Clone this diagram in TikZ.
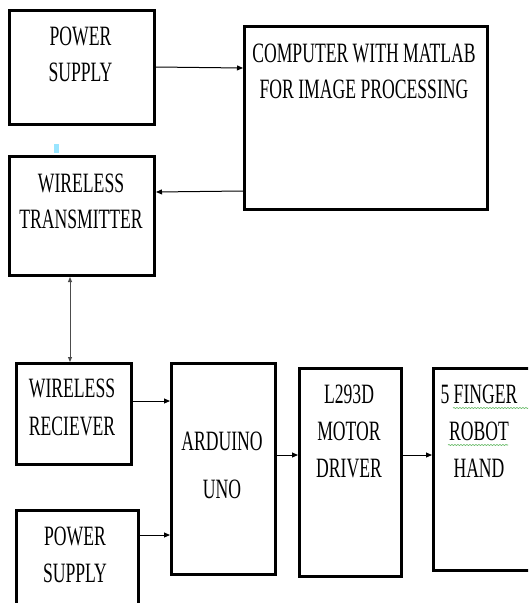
\documentclass[tikz,border=0pt]{standalone}
\usepackage{fontspec}
\setmainfont{Liberation Serif}[FakeStretch=0.63]
\usetikzlibrary{arrows.meta,decorations.pathmorphing}
\begin{document}
\begin{tikzpicture}[x=1pt,y=-1pt,
  blk/.style={draw,line width=3pt,inner sep=0pt,anchor=north west},
  lbl/.style={anchor=base,inner sep=0pt,font=\fontsize{28}{30}\selectfont},
  arr/.style={line width=1pt,-{Triangle[length=6pt,width=5pt]}},
  darr/.style={line width=0.9pt,draw=black!70,{Triangle[length=5pt,width=4pt]}-{Triangle[length=5pt,width=4pt]}},
  squig/.style={draw=green!55!black!70,line width=0.6pt,decorate,decoration={snake,amplitude=0.5pt,segment length=3pt}}]
\useasboundingbox (0,0) rectangle (528,603);
\clip (0,0) rectangle (528,603);
\fill[white] (0,0) rectangle (528,603);
% boxes
\node[blk,minimum width=145pt,minimum height=114pt] (ps1) at (8,9) {};
\node[blk,minimum width=243pt,minimum height=183pt] (comp) at (243,25) {};
\node[blk,minimum width=145pt,minimum height=119pt] (wt) at (8,155) {};
\node[blk,minimum width=115pt,minimum height=101pt] (wr) at (15,362) {};
\node[blk,minimum width=104pt,minimum height=211pt] (ard) at (170,362) {};
\node[blk,minimum width=102pt,minimum height=208pt] (drv) at (298,367) {};
\node[blk,minimum width=180pt,minimum height=202pt] (hand) at (432,367) {};
\node[blk,minimum width=122pt,minimum height=130pt] (ps2) at (15,509) {};
% blue mark
\fill[blue!25!cyan!40] (54,144) rectangle (59,153);
% labels
\node[lbl] (t1) at (80.5,45) {POWER};
\node[lbl] (t2) at (80.5,81) {SUPPLY};
\node[lbl] (t3) at (364,62) {COMPUTER WITH MATLAB};
\node[lbl] (t4) at (364,98) {FOR IMAGE PROCESSING};
\node[lbl] (t5) at (81,192) {WIRELESS};
\node[lbl] (t6) at (81,228) {TRANSMITTER};
\node[lbl] (t7) at (72,397) {WIRELESS};
\node[lbl] (t8) at (72,435) {RECIEVER};
\node[lbl] (t9) at (222,450) {ARDUINO};
\node[lbl] (t10) at (222,498) {UNO};
\node[lbl] (t11) at (349,403) {L293D};
\node[lbl] (t12) at (349,440) {MOTOR};
\node[lbl] (t13) at (349,477) {DRIVER};
\node[lbl] (t14) at (479,403) {5 FINGER};
\node[lbl] (t15) at (479,440) {ROBOT};
\node[lbl] (t16) at (479,477) {HAND};
\node[lbl] (t17) at (75,545) {POWER};
\node[lbl] (t18) at (75,582) {SUPPLY};
% spell-check underlines
\draw[squig] (453,408) -- (534,408);
\draw[squig] (448,445) -- (508,445);
% connectors
\draw[arr] (ps1.east |- 0,67) -- (comp.west |- 0,68);
\draw[arr] (comp.west |- 0,191) -- (wt.east |- 0,192);
\draw[darr] (wt.south -| 70,0) -- (wr.north -| 70,0);
\draw[arr] (wr.east |- 0,401) -- (ard.west |- 0,401);
\draw[arr] (ps2.east |- 0,535) -- (ard.west |- 0,535);
\draw[arr] (ard.east |- 0,455) -- (drv.west |- 0,455);
\draw[arr] (drv.east |- 0,455) -- (hand.west |- 0,455);
\end{tikzpicture}
\end{document}
